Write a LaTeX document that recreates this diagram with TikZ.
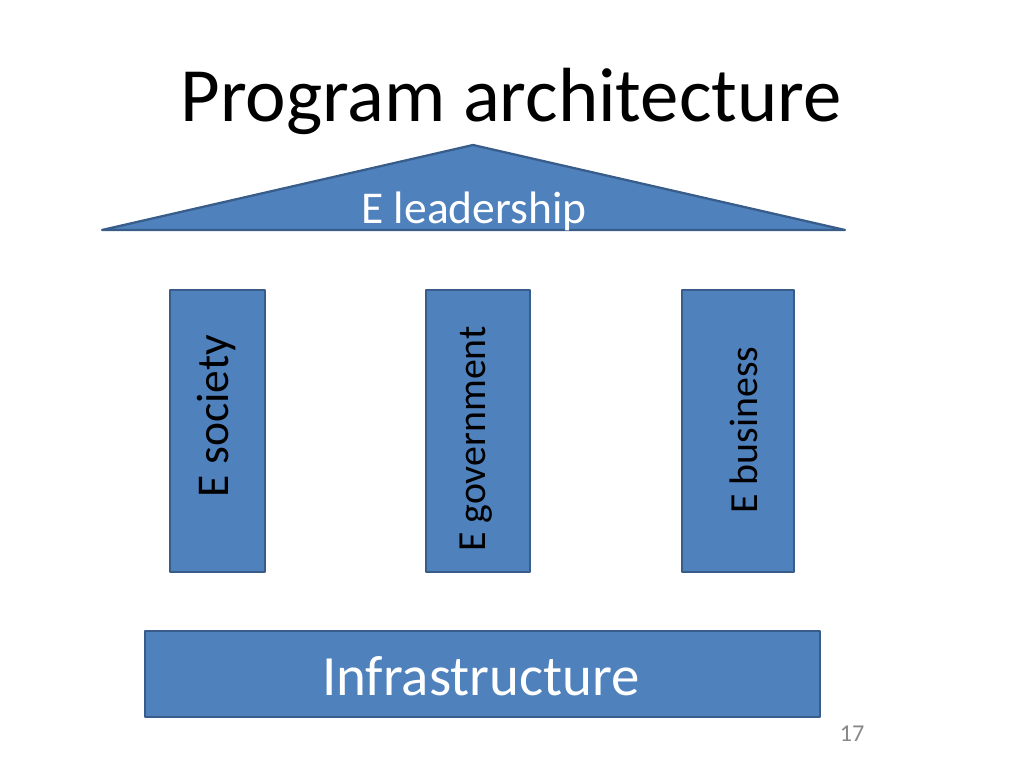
\documentclass[tikz,border=0pt]{standalone}
\usepackage{fontspec}
\setmainfont{Carlito}
\definecolor{fillblue}{HTML}{4F81BD}
\definecolor{edgeblue}{HTML}{385D8A}
\definecolor{pgray}{HTML}{888888}
\begin{document}
\begin{tikzpicture}[x=0.703125pt,y=-0.703125pt,
  block/.style={fill=fillblue,draw=edgeblue,line width=1.6pt,line join=round},
  wlabel/.style={text=white,inner sep=0pt,font=\fontsize{32}{38}\selectfont},
  blabel/.style={text=black,inner sep=0pt,rotate=90}]
\useasboundingbox (0,0) rectangle (1024,768);
\node[inner sep=0pt,font=\fontsize{54}{64}\selectfont] (title) at (511,101) {Program architecture};
% roof
\coordinate (rl) at (102,230);
\coordinate (ra) at (473,145);
\coordinate (rr) at (845,230);
\draw[block] (rl) -- (ra) -- (rr) -- cycle;
\node[wlabel] (lead) at (474,211) {E leadership};
% pillars
\draw[block] (170,290) rectangle (265,572);
\node[blabel,font=\fontsize{32}{38}\selectfont] (soc) at (217,416) {E society};
\draw[block] (426,290) rectangle (530,572);
\node[blabel,font=\fontsize{28}{34}\selectfont] (gov) at (476,439) {E government};
\draw[block] (682,290) rectangle (794,572);
\node[blabel,font=\fontsize{28}{34}\selectfont] (bus) at (744,430) {E business};
% base
\draw[block] (145,631) rectangle (820,717);
\node[text=white,inner sep=0pt,font=\fontsize{40}{48}\selectfont] (infra) at (481,676) {Infrastructure};
\node[text=pgray,inner sep=0pt,font=\fontsize{17}{20}\selectfont] (num) at (852,734) {17};
\end{tikzpicture}
\end{document}
